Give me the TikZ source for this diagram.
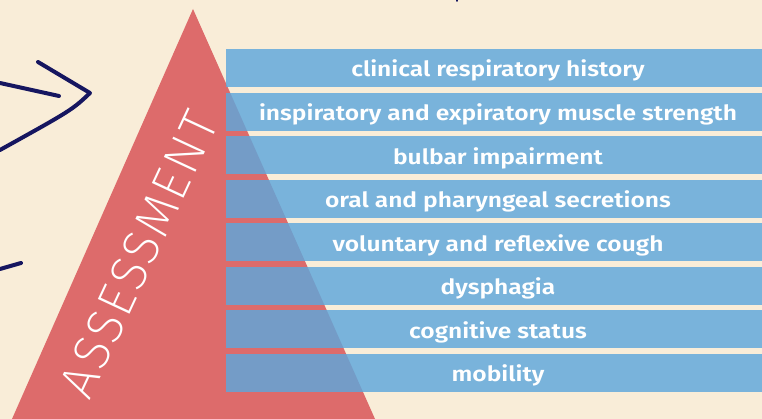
\documentclass[tikz,border=0pt]{standalone}
\usepackage{fontspec}
\setmainfont{Fira Sans}
\newfontfamily\barfont{Fira Sans SemiBold}[FakeStretch=1.17]
\newfontfamily\titlefont{Fira Sans ExtraLight}[LetterSpace=5]
\usetikzlibrary{positioning}
\definecolor{cream}{RGB}{249,237,216}
\definecolor{rose}{RGB}{221,107,107}
\definecolor{sky}{RGB}{93,167,220}
\definecolor{ink}{RGB}{22,22,96}

\begin{document}
\begin{tikzpicture}[x=1pt,y=-1pt,
    bar/.style={fill=sky,fill opacity=0.82,text opacity=1,text=white,inner sep=0pt,
      minimum width=544pt,minimum height=38pt,text height=22pt,text depth=4pt,
      font=\barfont\fontsize{21}{24}\selectfont},
    scribble/.style={draw=ink,line width=4pt,line cap=round,line join=round}]
  \useasboundingbox (0,0) rectangle (762,419);
  \clip (0,0) rectangle (762,419);
  \fill[cream] (0,0) rectangle (762,419);
  % pyramid
  \fill[rose] (193,9) -- (375,419) -- (12,419) -- cycle;
  \node[rotate=65,text=white,inner sep=0pt,font=\titlefont\fontsize{51}{60}\selectfont] (title) at (139,254) {ASSESSMENT};
  % bars
  \foreach \t [count=\i] in {
    clinical respiratory history,
    inspiratory and expiratory muscle strength,
    bulbar impairment,
    oral and pharyngeal secretions,
    voluntary and reflexive cough,
    dysphagia,
    cognitive status,
    mobility}
  {
    \node[bar] (bar\i) at (498,{68+43.57*(\i-1)}) {\t};
  }
  % scribbles
  \coordinate (s1) at (38,62);
  \coordinate (s2) at (90,93);
  \coordinate (s3) at (0,150);
  \draw[scribble] (s1) -- (s2) .. controls (72,110) .. (s3);
  \coordinate (s4) at (0,83);
  \coordinate (s5) at (59,96);
  \draw[scribble] (s4) -- (s5);
  \coordinate (s6) at (0,269);
  \coordinate (s7) at (21,263);
  \draw[scribble] (s6) -- (s7);
  \coordinate (s8) at (457,-4);
  \coordinate (s9) at (457,1);
  \draw[scribble,line width=2pt] (s8) -- (s9);
\end{tikzpicture}
\end{document}
